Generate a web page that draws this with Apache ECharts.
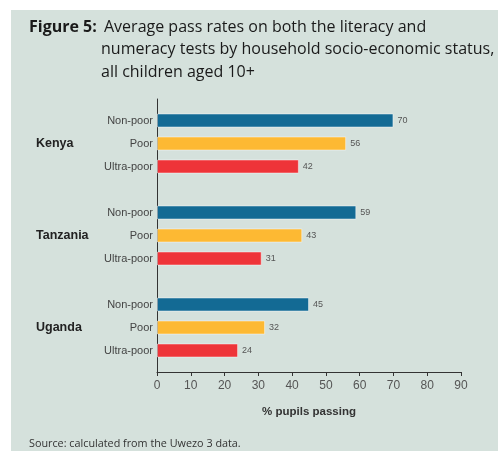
<!DOCTYPE html>
<html>
<head>
<meta charset="utf-8">
<script src="https://cdn.jsdelivr.net/npm/echarts@6/dist/echarts.min.js"></script>
<style>
  html, body { margin: 0; padding: 0; background: #fff; }
  #chart { width: 498px; height: 451px; }
</style>
</head>
<body>
<div id="chart"></div>
<script>
// data
const countries = ['Kenya', 'Tanzania', 'Uganda']
const statuses = ['Non-poor', 'Poor', 'Ultra-poor']
const nonPoor = [70, 59, 45]
const poor = [56, 43, 32]
const ultraPoor = [42, 31, 24]
const xTicks = [0, 10, 20, 30, 40, 50, 60, 70, 80, 90]

const colors = ['#136a94', '#fdb933', '#ee3439']
const seriesValues = [nonPoor, poor, ultraPoor]

// one row per status, blank row between countries
const rows = []
const rowCountry = []
countries.forEach((c, i) => {
  if (i > 0) { rows.push(''); rowCountry.push('') }
  statuses.forEach((s, j) => {
    rows.push(s)
    rowCountry.push(j === 1 ? c : '')
  })
})

const series = statuses.map((s, j) => {
  const data = []
  countries.forEach((c, i) => {
    if (i > 0) data.push('-')
    statuses.forEach((_, k) => data.push(k === j ? seriesValues[j][i] : '-'))
  })
  return {
    name: s,
    type: 'bar',
    stack: 'all',
    barWidth: 14,
    data: data,
    itemStyle: {
      color: colors[j],
      borderColor: 'rgba(255,255,255,0.45)',
      borderWidth: 1
    },
    label: {
      show: true,
      position: 'right',
      distance: 4,
      fontSize: 9,
      color: '#555',
      fontFamily: 'Liberation Sans'
    },
    animation: false
  }
})

const titleFont = { fontFamily: 'Open Sans', fontSize: 16, fontWeight: 'normal', color: '#1a1a1a', lineHeight: 22.5 }

const chart = echarts.init(document.getElementById('chart'))
chart.setOption({
  animation: false,
  backgroundColor: '#fff',
  graphic: [{
    type: 'rect',
    z: -10,
    shape: { x: 11, y: 10, width: 487, height: 441 },
    style: { fill: '#d5e1dc' }
  }],
  title: [{
    text: 'Figure 5:',
    left: 29, top: 16, padding: 0,
    textStyle: Object.assign({}, titleFont, { fontWeight: 'bold' })
  }, {
    text: 'Average pass rates on both the literacy and',
    left: 104, top: 16, padding: 0,
    textStyle: titleFont
  }, {
    text: 'numeracy tests by household socio-economic status,\nall children aged 10+',
    left: 101, top: 38.5, padding: 0,
    textStyle: titleFont
  }, {
    text: 'Source: calculated from the Uwezo 3 data.',
    left: 29, top: 438, padding: 0,
    textStyle: { fontFamily: 'Open Sans', fontSize: 10.8, fontWeight: 'normal', color: '#333' }
  }],
  grid: [
    { left: 157, width: 304, top: 109, height: 253 },
    { left: 157, width: 304, top: 99, height: 273 }
  ],
  xAxis: [{
    gridIndex: 0,
    type: 'value',
    min: 0, max: 90, interval: 10,
    offset: 10,
    name: '% pupils passing',
    nameLocation: 'middle',
    nameGap: 34,
    nameTextStyle: { fontFamily: 'Liberation Sans', fontSize: 11.5, fontWeight: 'bold', color: '#333' },
    axisLine: { show: true, lineStyle: { color: '#333', width: 1 } },
    axisTick: { show: true, length: 4, lineStyle: { color: '#333' } },
    axisLabel: {
      margin: 8,
      fontFamily: 'Liberation Sans', fontSize: 12, color: '#555',
      formatter: v => xTicks.includes(v) ? String(v) : ''
    },
    splitLine: { show: false }
  }, {
    gridIndex: 1, type: 'value', show: false
  }],
  yAxis: [{
    gridIndex: 0,
    type: 'category',
    data: rows,
    inverse: true,
    axisLine: { show: false },
    axisTick: { show: false },
    axisLabel: { interval: 0, margin: 4, fontFamily: 'Liberation Sans', fontSize: 11, color: '#444' }
  }, {
    gridIndex: 0,
    type: 'category',
    data: rows,
    inverse: true,
    position: 'left',
    axisLine: { show: false },
    axisTick: { show: false },
    axisLabel: {
      interval: 0, margin: 121, align: 'left',
      fontFamily: 'Liberation Sans', fontSize: 12.5, fontWeight: 'bold', color: '#222',
      formatter: (v, i) => rowCountry[i]
    }
  }, {
    gridIndex: 1,
    type: 'value',
    axisLine: { show: true, lineStyle: { color: '#333', width: 1 } },
    axisTick: { show: false },
    axisLabel: { show: false },
    splitLine: { show: false }
  }],
  series: series
})
</script>
</body>
</html>
